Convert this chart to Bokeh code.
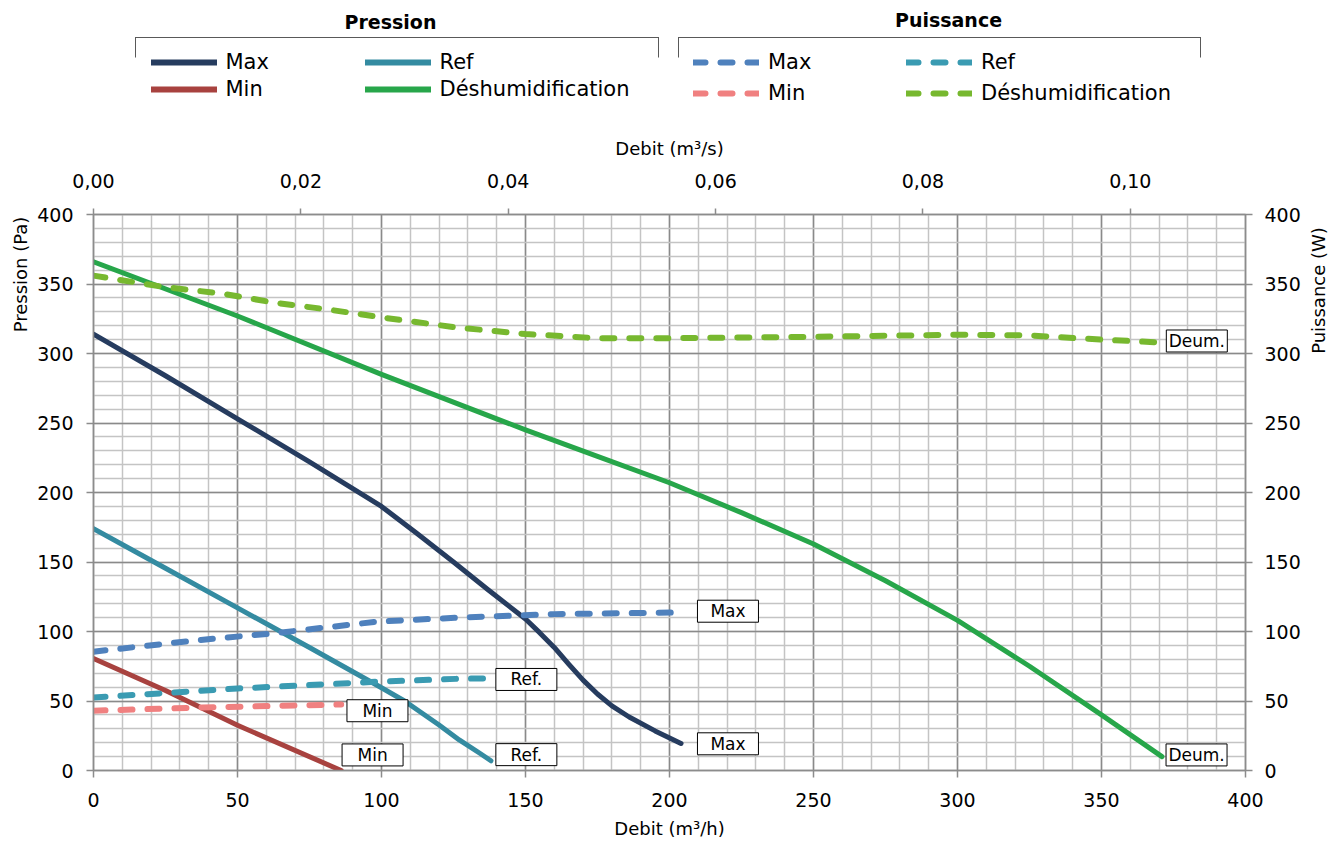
import math
from bokeh.plotting import figure
from bokeh.layouts import column, row
from bokeh.models import (Range1d, LinearAxis, SingleIntervalTicker, FixedTicker,
                          CustomJSTickFormatter, Legend, LegendItem, Label,
                          BoxAnnotation, ColumnDataSource)
from bokeh.embed import file_html
from bokeh.resources import INLINE
from bokeh.core.properties import value

# ---------------- data ----------------
# Pression (Pa) vs Debit (m3/h)
q_p_max = [0, 25, 50, 75, 100, 112, 125, 137, 150, 155, 160, 165, 170, 175, 180, 186, 195, 204]
p_max = [314, 284, 253, 222, 190, 171, 150, 130, 109, 99, 88.5, 76.5, 65, 55, 46.5, 38.5, 28.5, 19.5]

q_p_ref = [0, 25, 50, 75, 100, 108, 120, 127, 134, 138]
p_ref = [174, 145.5, 117, 88.5, 59.5, 50, 32.7, 22, 12.6, 7]

q_p_min = [0, 25, 50, 86]
p_min = [80.5, 57.5, 32.5, 0]

q_p_desh = [0, 50, 100, 150, 175, 200, 225, 250, 275, 300, 325, 350, 371]
p_desh = [366, 327, 285, 245, 226, 207, 185.5, 163, 136.5, 108, 75, 40, 10]

# Puissance (W) vs Debit (m3/h)
q_w_max = [0, 35, 64, 99, 127, 160, 204]
w_max = [85.5, 93.5, 99, 107.2, 110, 112.5, 113.7]

q_w_ref = [0, 50, 100, 127, 138]
w_ref = [52.5, 59, 64, 66, 66.3]

q_w_min = [0, 37, 86]
w_min = [43, 45.3, 47.5]

q_w_desh = [0, 24, 45, 63, 82, 100, 125, 150, 175, 200, 250, 300, 325, 350, 370]
w_desh = [356, 348, 343, 336.5, 331.5, 326, 319, 314, 311, 311, 312, 313.5, 313, 310, 308]

# data labels at curve ends
label_texts = ["Max", "Max", "Ref.", "Ref.", "Min", "Min", "Deum.", "Deum."]
label_q = [220.3, 220.3, 150.3, 150.3, 98.6, 96.9, 383.1, 383.0]
label_v = [114.6, 19.2, 65.5, 11.4, 43.0, 11.2, 309.0, 11.2]

top_ticks = [0.0, 0.02, 0.04, 0.06, 0.08, 0.10]
legend_names = ["Max", "Ref", "Min", "Déshumidification"] * 2

# ---------------- layout / style ----------------
FONT = "DejaVu Sans"
W, H = 1330, 852
LEG_H = 130                 # height of the legend strip on top
LW, RW = 30, 26             # widths of the side-title strips
FL, FR, FT, FB = 93, 1245, 214, 770   # frame edges in page pixels
MAIN_W = W - LW - RW
MAIN_H = H - LEG_H
AX = "#8c8c8c"

p = figure(width=MAIN_W, height=MAIN_H, output_backend="svg", toolbar_location=None,
           x_range=Range1d(0, 400), y_range=Range1d(0, 400),
           min_border_left=FL - LW, min_border_right=(W - RW) - FR,
           min_border_top=FT - LEG_H, min_border_bottom=H - FB)
p.extra_x_ranges = {"qs": Range1d(0, 400 / 3600)}
p.extra_y_ranges = {"pw": Range1d(0, 400)}
p.outline_line_color = AX
p.outline_line_width = 1.5
p.background_fill_color = "white"
p.border_fill_color = "white"

tick50 = SingleIntervalTicker(interval=50, num_minor_ticks=5)
bottom_axis = p.below[0]
left_axis = p.left[0]
bottom_axis.ticker = tick50
left_axis.ticker = tick50
for g in (p.xgrid, p.ygrid):
    g.ticker = tick50
    g.grid_line_color = "#8a8a8a"
    g.grid_line_width = 1.5
    g.minor_grid_line_color = "#c4c4c4"
    g.minor_grid_line_width = 1.5

top_axis = LinearAxis(x_range_name="qs", ticker=FixedTicker(ticks=top_ticks),
                      formatter=CustomJSTickFormatter(code="return tick.toFixed(2).replace('.', ',');"),
                      axis_label="Debit (m³/s)")
p.add_layout(top_axis, "above")
right_axis = LinearAxis(y_range_name="pw", ticker=tick50)
p.add_layout(right_axis, "right")
bottom_axis.axis_label = "Debit (m³/h)"

for ax in [bottom_axis, left_axis, top_axis, right_axis]:
    ax.axis_line_color = AX
    ax.axis_line_width = 1.5
    ax.major_tick_line_color = AX
    ax.major_tick_line_width = 1.5
    ax.major_tick_out = 7
    ax.major_tick_in = 0
    ax.minor_tick_line_color = None
    ax.major_label_text_font = FONT
    ax.major_label_text_font_size = "19px"
    ax.major_label_text_color = "#000000"
    ax.axis_label_text_font = FONT
    ax.axis_label_text_font_size = "18px"
    ax.axis_label_text_font_style = "normal"
    ax.axis_label_text_color = "#000000"
bottom_axis.major_label_standoff = 15
bottom_axis.axis_label_standoff = 8
top_axis.major_tick_out = 6
top_axis.major_label_standoff = 21
top_axis.axis_label_standoff = 12
left_axis.major_label_standoff = 13
right_axis.major_label_standoff = 12

# ---------------- series ----------------
series = [
    (q_p_max, p_max, "default", "#263c5f", False),
    (q_p_ref, p_ref, "default", "#348ba1", False),
    (q_p_min, p_min, "default", "#a8423f", False),
    (q_p_desh, p_desh, "default", "#27a64a", False),
    (q_w_max, w_max, "pw", "#4f81bd", True),
    (q_w_ref, w_ref, "pw", "#3a9bb2", True),
    (q_w_min, w_min, "pw", "#f08080", True),
    (q_w_desh, w_desh, "pw", "#77b82f", True),
]

def style(col, dashed, solid_width=5):
    kw = dict(line_color=col, line_cap="round", line_join="round")
    if dashed:
        kw.update(line_width=6, line_dash="12 15")
    else:
        kw.update(line_width=solid_width)
    return kw

for q, v, rng, col, dashed in series:
    kw = style(col, dashed)
    if rng != "default":
        kw["y_range_name"] = rng
    p.line(q, v, **kw)

# data labels
lab_src = ColumnDataSource(dict(x=label_q, y=label_v, t=label_texts))
p.rect(x="x", y="y", width=61, height=22, width_units="screen", height_units="screen",
       source=lab_src, fill_color="white", line_color="#000000", line_width=1)
p.text(x="x", y="y", text="t", source=lab_src, text_align="center",
       text_baseline="middle", text_font=value(FONT), text_font_size="17px",
       text_color="#000000")

# ---------------- legend strip ----------------
def blank(width, height):
    f = figure(width=width, height=height, output_backend="svg", toolbar_location=None,
               x_axis_type=None, y_axis_type=None, x_range=Range1d(0, width),
               y_range=Range1d(0, height), min_border=0)
    f.outline_line_color = None
    f.background_fill_color = "white"
    f.border_fill_color = "white"
    return f

leg = blank(W, LEG_H)
NAN = float("nan")
proxies = []
for q, v, rng, col, dashed in series:
    # legend-only proxy renderers (no visible data)
    proxies.append(leg.line(x=[NAN], y=[NAN], **style(col, dashed, solid_width=6)))

def make_legend(idx, left_px, top_px, spacing):
    item_h = 24.4
    height = 2 * item_h + spacing
    lg = Legend(items=[LegendItem(label=legend_names[i], renderers=[proxies[i]]) for i in idx],
                location=(left_px, LEG_H - top_px - height), orientation="vertical",
                padding=0, margin=0, spacing=spacing, glyph_width=66, glyph_height=20,
                label_height=20, label_standoff=9, label_text_font=FONT,
                label_text_font_size="21px", label_text_color="#000000",
                border_line_alpha=0, background_fill_alpha=0)
    leg.add_layout(lg)

make_legend([0, 2], 150.5, 48.8, 3)
make_legend([1, 3], 364.5, 48.8, 3)
make_legend([4, 6], 693, 48.8, 7)
make_legend([5, 7], 906, 48.8, 7)

for txt, cx, cy in [("Pression", 390, 21), ("Puissance", 948, 19)]:
    leg.add_layout(Label(x=cx, y=LEG_H - cy, x_units="screen", y_units="screen",
                         text=txt, text_align="center", text_baseline="middle",
                         text_font=FONT, text_font_size="19px", text_font_style="bold",
                         text_color="#000000"))
BR = "#595959"
for x0, x1 in [(135, 658), (678, 1200)]:
    yb = LEG_H - 37
    leg.add_layout(BoxAnnotation(left=x0, right=x1, bottom=yb - 0.5, top=yb + 0.5,
                                 left_units="screen", right_units="screen",
                                 bottom_units="screen", top_units="screen",
                                 fill_color=BR, fill_alpha=1, line_alpha=0))
    for xx in (x0, x1):
        leg.add_layout(BoxAnnotation(left=xx - 0.5, right=xx + 0.5,
                                     bottom=LEG_H - 57, top=yb + 0.5,
                                     left_units="screen", right_units="screen",
                                     bottom_units="screen", top_units="screen",
                                     fill_color=BR, fill_alpha=1, line_alpha=0))

# ---------------- side titles (their frames align with the main frame) ----------------
lt = blank(LW, MAIN_H)
lt.add_layout(Label(x=20, y=FB - 274, x_units="screen", y_units="screen",
                    text="Pression (Pa)", angle=math.pi / 2, text_align="center",
                    text_baseline="middle", text_font=FONT, text_font_size="18px",
                    text_color="#000000"))
rt = blank(RW, MAIN_H)
rt.add_layout(Label(x=1318 - (W - RW), y=FB - 290, x_units="screen",
                    y_units="screen", text="Puissance (W)", angle=math.pi / 2,
                    text_align="center", text_baseline="middle", text_font=FONT,
                    text_font_size="18px", text_color="#000000"))

layout = column(leg, row(lt, p, rt, spacing=0), spacing=0)
open("out.html", "w").write(file_html(layout, INLINE))
